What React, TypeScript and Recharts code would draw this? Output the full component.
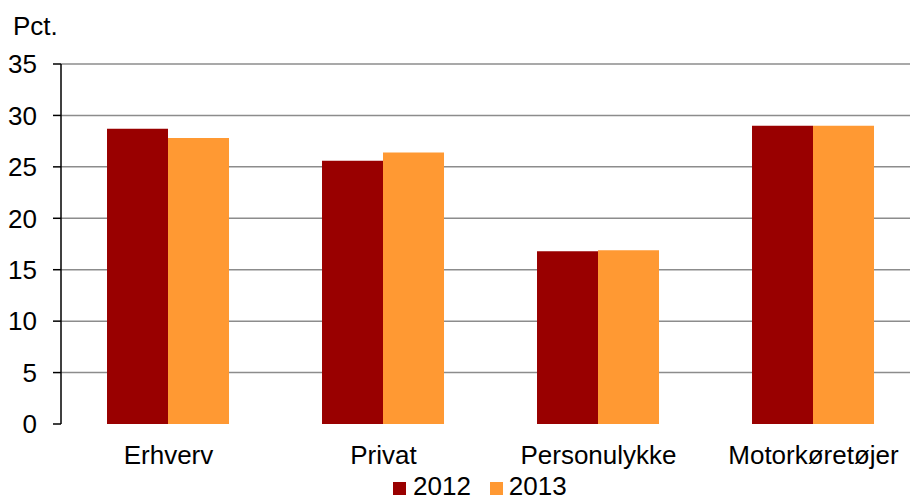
import { BarChart, Bar, XAxis, YAxis, CartesianGrid } from 'recharts'

const CATEGORIES = ['Erhverv', 'Privat', 'Personulykke', 'Motorkøretøjer']
const VALUES_2012 = [28.7, 25.6, 16.8, 29.0]
const VALUES_2013 = [27.8, 26.4, 16.9, 29.0]
const Y_TICKS = [0, 5, 10, 15, 20, 25, 30, 35]
const BOUNDARY_TICKS = [0, 1, 2, 3, 4]

const COLOR_2012 = '#990000'
const COLOR_2013 = '#FF9933'
const FONT = '"Liberation Sans", Arial, sans-serif'

const data = CATEGORIES.map((name, i) => ({
    name,
    y2012: VALUES_2012[i],
    y2013: VALUES_2013[i],
}))

export default function App() {
    return (
        <div
            style={{
                position: 'absolute',
                left: 0,
                top: 0,
                width: 910,
                height: 502,
                overflow: 'hidden',
                background: '#fff',
                fontFamily: FONT,
            }}
        >
            <div style={{ position: 'absolute', left: 13, top: 11, fontSize: 26, color: '#000' }}>Pct.</div>

            <BarChart
                width={935}
                height={502}
                data={data}
                margin={{ top: 64, right: 14, bottom: 0, left: 0 }}
                barCategoryGap="21.4%"
                barGap={0}
            >
                <CartesianGrid
                    vertical={false}
                    stroke="#8c8c8c"
                    strokeWidth={1.5}
                    horizontalValues={[5, 10, 15, 20, 25, 30, 35]}
                    yAxisId="v"
                    xAxisId="cat"
                />
                <XAxis
                    xAxisId="edge"
                    type="number"
                    domain={[0, 4]}
                    ticks={BOUNDARY_TICKS}
                    allowDataOverflow
                    height={0}
                    tick={false}
                    tickSize={8}
                    tickLine={{ stroke: '#000', strokeWidth: 1.5 }}
                    axisLine={{ stroke: '#000', strokeWidth: 1.5 }}
                />
                <XAxis
                    xAxisId="cat"
                    dataKey="name"
                    height={78}
                    axisLine={false}
                    tickLine={false}
                    tickSize={0}
                    tickMargin={22}
                    interval={0}
                    tick={{ fill: '#000', fontSize: 26, fontFamily: FONT }}
                />
                <YAxis
                    yAxisId="v"
                    width={61}
                    domain={[0, 35]}
                    ticks={Y_TICKS}
                    interval={0}
                    tickSize={8}
                    tickMargin={16}
                    tick={{ fill: '#000', fontSize: 26, fontFamily: FONT }}
                    tickLine={{ stroke: '#000', strokeWidth: 1.5 }}
                    axisLine={{ stroke: '#000', strokeWidth: 1.5 }}
                />
                <Bar xAxisId="cat" yAxisId="v" dataKey="y2012" name="2012" fill={COLOR_2012} isAnimationActive={false} />
                <Bar xAxisId="cat" yAxisId="v" dataKey="y2013" name="2013" fill={COLOR_2013} isAnimationActive={false} />
            </BarChart>

            <div
                style={{
                    position: 'absolute',
                    left: 393,
                    top: 472,
                    display: 'flex',
                    alignItems: 'center',
                    fontSize: 26,
                    lineHeight: '28px',
                    color: '#000',
                }}
            >
                <span style={{ width: 13, height: 13, background: COLOR_2012, display: 'inline-block', marginRight: 7, marginTop: 4 }} />
                <span style={{ marginRight: 19 }}>2012</span>
                <span style={{ width: 13, height: 13, background: COLOR_2013, display: 'inline-block', marginRight: 6, marginTop: 4 }} />
                <span>2013</span>
            </div>
        </div>
    )
}
